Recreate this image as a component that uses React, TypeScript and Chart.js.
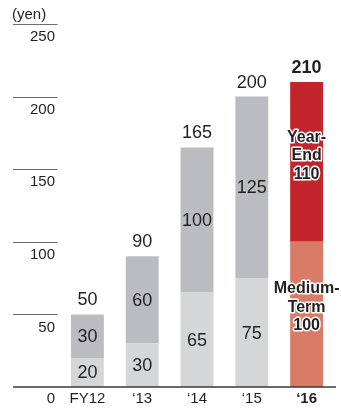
import React, { useEffect, useRef } from "react";
import { Chart, registerables } from "chart.js";

Chart.register(...registerables);

const categories = ["FY12", "\u201813", "\u201814", "\u201815", "\u201816"];
const mediumTerm = [20, 30, 65, 75, 100];
const yearEnd = [30, 60, 100, 125, 110];
const yTicks = [0, 50, 100, 150, 200, 250];
const unitLabel = "(yen)";
const captionMedium = ["Medium-", "Term"];
const captionYearEnd = ["Year-", "End"];

const FONT = "'Liberation Sans', Arial, Helvetica, sans-serif";
const TEXT = "#231f20";
const lightGray = "#d5d6d8";
const darkGray = "#bbbcc0";
const salmon = "#d97c67";
const red = "#c3252d";

const highlight = categories.length - 1;

const labelsPlugin = {
  id: "customLabels",
  afterDraw(chart: any) {
    const ctx = chart.ctx;
    const y = chart.scales.y;
    const area = chart.chartArea;
    ctx.save();
    // short left grid lines + labels
    yTicks.forEach((v) => {
      const py = y.getPixelForValue(v);
      if (v !== 0) {
        ctx.strokeStyle = "#6d6e71";
        ctx.lineWidth = 1;
        ctx.beginPath();
        ctx.moveTo(13, Math.round(py) + 0.5);
        ctx.lineTo(57.5, Math.round(py) + 0.5);
        ctx.stroke();
      }
      ctx.fillStyle = TEXT;
      ctx.font = `15px ${FONT}`;
      ctx.textAlign = "right";
      ctx.textBaseline = "middle";
      ctx.fillText(String(v), 55, py + (v === 0 ? 12 : 13));
    });
    ctx.textAlign = "left";
    ctx.font = `15px ${FONT}`;
    ctx.fillText(unitLabel, 12, y.getPixelForValue(250) - 9);

    // baseline
    const by = y.getPixelForValue(0);
    ctx.strokeStyle = "#3a3a3a";
    ctx.lineWidth = 1.3;
    ctx.beginPath();
    ctx.moveTo(13, by);
    ctx.lineTo(area.right + 2, by);
    ctx.stroke();

    const m0 = chart.getDatasetMeta(0);
    const m1 = chart.getDatasetMeta(1);
    ctx.textAlign = "center";
    ctx.textBaseline = "middle";
    for (let i = 0; i < categories.length; i++) {
      const b0 = m0.data[i];
      const b1 = m1.data[i];
      const x = b0.x;
      const c0 = (b0.y + b0.base) / 2;
      const c1 = (b1.y + b1.base) / 2;
      const total = mediumTerm[i] + yearEnd[i];
      if (i !== highlight) {
        ctx.fillStyle = TEXT;
        ctx.font = `18px ${FONT}`;
        ctx.fillText(String(mediumTerm[i]), x, c0 + 1);
        ctx.fillText(String(yearEnd[i]), x, c1 + 1);
        ctx.fillText(String(total), x, b1.y - 14);
      } else {
        ctx.font = `bold 18px ${FONT}`;
        ctx.fillStyle = TEXT;
        ctx.fillText(String(total), x, b1.y - 14);
        const drawBlock = (lines: string[], cy: number) => {
          ctx.font = `bold 16px ${FONT}`;
          ctx.lineJoin = "round";
          ctx.lineWidth = 3;
          ctx.strokeStyle = "#ffffff";
          lines.forEach((t, k) => {
            const ly = cy + (k - 1) * 18.5;
            ctx.strokeText(t, x, ly);
            ctx.fillStyle = TEXT;
            ctx.fillText(t, x, ly);
          });
        };
        drawBlock([...captionMedium, String(mediumTerm[i])], c0 - 7);
        drawBlock([...captionYearEnd, String(yearEnd[i])], c1 - 6);
      }
    }
    ctx.restore();
  },
};

export default function App() {
  const ref = useRef<HTMLCanvasElement>(null);
  useEffect(() => {
    if (!ref.current) return;
    const chart = new Chart(ref.current, {
      type: "bar",
      data: {
        labels: categories,
        datasets: [
          {
            label: "Medium-Term",
            data: mediumTerm,
            backgroundColor: categories.map((_, i) => (i === highlight ? salmon : lightGray)),
            borderWidth: 0,
            categoryPercentage: 1,
            barPercentage: 0.6,
          },
          {
            label: "Year-End",
            data: yearEnd,
            backgroundColor: categories.map((_, i) => (i === highlight ? red : darkGray)),
            borderWidth: 0,
            categoryPercentage: 1,
            barPercentage: 0.6,
          },
        ],
      },
      options: {
        responsive: false,
        animation: false,
        layout: { padding: { left: 60, right: 7, top: 24, bottom: 0 } },
        plugins: { legend: { display: false }, tooltip: { enabled: false } },
        scales: {
          x: {
            stacked: true,
            grid: { display: false },
            border: { display: false },
            ticks: {
              color: TEXT,
              padding: -5,
              font: (c: any) => ({
                family: FONT,
                size: 15,
                weight: c.index === highlight ? "bold" : "normal",
              }),
            },
            afterFit: (s: any) => {
              s.height = 22;
            },
          },
          y: {
            stacked: true,
            display: false,
            min: 0,
            max: 250,
          },
        },
      },
      plugins: [labelsPlugin],
    });
    return () => chart.destroy();
  }, []);
  return (
    <div style={{ position: "fixed", left: 0, top: 0, width: 341, height: 409, background: "#fff" }}>
      <canvas ref={ref} width={341} height={409} />
    </div>
  );
}
